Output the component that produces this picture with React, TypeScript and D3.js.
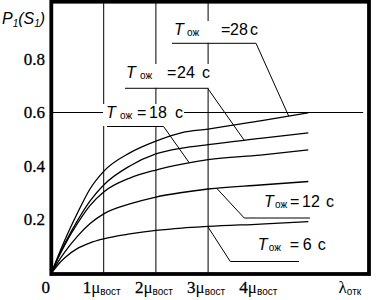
import React from 'react';
import * as d3 from 'd3';

// x in multiples of μ_вост, y = P1(S1)
const xMu = [0, 0.12, 0.26, 0.5, 0.74, 1.0, 1.5, 2.0, 2.5, 3.0, 4.0, 4.92];
const p28 = [0, 0.06, 0.125, 0.225, 0.315, 0.38, 0.449, 0.493, 0.525, 0.538, 0.569, 0.599];
const p24 = [0, 0.055, 0.112, 0.197, 0.27, 0.329, 0.4, 0.445, 0.467, 0.48, 0.503, 0.524];
const p18 = [0, 0.053, 0.107, 0.186, 0.253, 0.303, 0.355, 0.385, 0.407, 0.424, 0.441, 0.46];
const p12 = [0, 0.04, 0.08, 0.138, 0.185, 0.221, 0.258, 0.284, 0.301, 0.314, 0.329, 0.342];
const p6 = [0, 0.03, 0.058, 0.092, 0.113, 0.128, 0.146, 0.159, 0.168, 0.174, 0.183, 0.192];
const tOzh = [28, 24, 18, 12, 6];
const seriesValues = [p28, p24, p18, p12, p6];

const yTicks = [0.2, 0.4, 0.6, 0.8];
const yTickLabels = ['0.2', '0.4', '0.6', '0.8'];
const xTicks = [1, 2, 3, 4];
const xGrid = [1, 2, 3];
const refLineValue = 0.6;
const refLineEnd = 5.97;

// annotation layout (data units for anchors, pixel offsets for text parts)
const labelLayout = [
  { tx: 2.347, ty: 0.8897, offs: [13, 47, 56, 76], ul: [2.308, 3.918, 0.8587], cx: 4.544, fromCurve: false },
  { tx: 1.427, ty: 0.729, offs: [14, 41, 51, 76], ul: [1.408, 2.992, 0.6905], cx: 3.693, fromCurve: false },
  { tx: 1.044, ty: 0.5794, offs: [14, 31, 43, 69], ul: [1.063, 2.146, 0.5477], cx: 2.64, fromCurve: false },
  { tx: 4.071, ty: 0.2467, offs: [11, 26, 38, 62], ul: [3.693, 4.952, 0.2056], cx: 3.165, fromCurve: true },
  { tx: 3.95, ty: 0.086, offs: [11, 32, 45, 60], ul: [3.425, 4.741, 0.043], cx: 2.992, fromCurve: true },
];

const SANS = "'Liberation Sans', Arial, sans-serif";
const SERIF = "'Liberation Serif', 'Times New Roman', serif";

export default function App() {
  const x = d3.scaleLinear().domain([0, 6]).range([51.5, 51.5 + 6 * 52.2]);
  const y = d3.scaleLinear().domain([0, 1]).range([273, 5.5]);
  const line = d3
    .line<number>()
    .x((_, i) => x(xMu[i]))
    .y((d) => y(d))
    .curve(d3.curveMonotoneX);

  const frame = { l: 51.3, t: 1.7, r: 369, b: 274 };
  const serif = { fontFamily: SERIF };
  const sans = { fontFamily: SANS };

  return (
    <svg
      width={377}
      height={300}
      style={{ position: 'absolute', left: 0, top: 0, background: '#fff' }}
    >
      <rect x={0} y={0} width={377} height={300} fill="#fff" />
      {/* grid */}
      {xGrid.map((g) => (
        <line key={g} x1={x(g)} x2={x(g)} y1={0} y2={frame.b} stroke="#000" strokeWidth={1} />
      ))}
      <line
        x1={x(0)}
        x2={x(refLineEnd)}
        y1={y(refLineValue)}
        y2={y(refLineValue)}
        stroke="#000"
        strokeWidth={1}
      />
      {/* label backgrounds */}
      {labelLayout.map((lb, i) => {
        const x0 = x(lb.tx);
        const b = y(lb.ty);
        const ulY = y(lb.ul[2]);
        return (
          <rect
            key={'bg' + i}
            x={x0 - 3}
            y={b - 14}
            width={lb.offs[3] + 12}
            height={ulY - b + 13.5}
            fill="#fff"
          />
        );
      })}
      {/* curves */}
      {seriesValues.map((s, i) => (
        <path key={tOzh[i]} d={line(s) || ''} fill="none" stroke="#000" strokeWidth={1.3} />
      ))}
      {/* leaders */}
      {labelLayout.map((lb, i) => {
        const interp = d3.scaleLinear().domain(xMu).range(seriesValues[i]);
        const cp: [number, number] = [x(lb.cx), y(interp(lb.cx))];
        const a: [number, number] = [x(lb.ul[0]), y(lb.ul[2])];
        const bpt: [number, number] = [x(lb.ul[1]), y(lb.ul[2])];
        const pts = lb.fromCurve ? [cp, a, bpt] : [a, bpt, cp];
        return (
          <polyline
            key={'ld' + i}
            points={pts.map((p) => p.join(',')).join(' ')}
            fill="none"
            stroke="#000"
            strokeWidth={1}
          />
        );
      })}
      {/* labels */}
      {labelLayout.map((lb, i) => {
        const x0 = x(lb.tx);
        const b = y(lb.ty);
        return (
          <g key={'lb' + i} style={sans} fill="#000">
            <text x={x0} y={b} fontSize={16} fontStyle="italic">T</text>
            <text x={x0 + lb.offs[0]} y={b + 1} fontSize={10}>ож</text>
            <text x={x0 + lb.offs[1]} y={b} fontSize={16}>=</text>
            <text x={x0 + lb.offs[2]} y={b} fontSize={16}>{tOzh[i]}</text>
            <text x={x0 + lb.offs[3]} y={b} fontSize={16}>с</text>
          </g>
        );
      })}
      {/* y tick labels */}
      {yTicks.map((t, i) => (
        <text
          key={'yt' + t}
          x={45}
          y={y(t) + 5.5}
          textAnchor="end"
          style={serif}
          fontSize={17}
          stroke="#000"
          strokeWidth={0.3}
        >
          {yTickLabels[i]}
        </text>
      ))}
      <text x={x(0) - 1.5} y={293} textAnchor="end" style={serif} fontSize={17} stroke="#000" strokeWidth={0.3}>0</text>
      {/* x tick labels */}
      {xTicks.map((t) => (
        <text key={'xt' + t} x={x(t) - 2} y={293} textAnchor="middle" style={serif} fontSize={17}>
          <tspan stroke="#000" strokeWidth={0.3}>{t}</tspan>
          <tspan>μ</tspan>
          <tspan style={sans} fontSize={10} dy={1.5}>вост</tspan>
        </text>
      ))}
      <text x={x(5.5)} y={293} style={serif} fontSize={17}>
        <tspan>λ</tspan>
        <tspan style={sans} fontSize={10} dy={1.5}>отк</tspan>
      </text>
      {/* y title */}
      <text x={2} y={23.5} style={sans} fontSize={16} fontStyle="italic">
        <tspan>P</tspan>
        <tspan fontSize={10} dy={3}>1</tspan>
        <tspan dy={-3}>(S</tspan>
        <tspan fontSize={10} dy={3}>1</tspan>
        <tspan dy={-3}>)</tspan>
      </text>
      {/* frame */}
      <rect
        x={frame.l}
        y={frame.t}
        width={frame.r - frame.l}
        height={frame.b - frame.t}
        fill="none"
        stroke="#000"
        strokeWidth={3.8}
      />
    </svg>
  );
}
